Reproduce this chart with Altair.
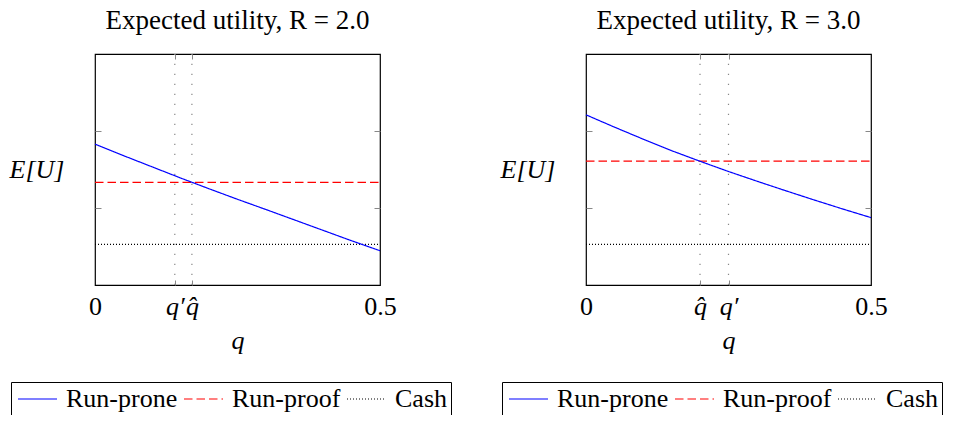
import altair as alt
import pandas as pd

# ---------------- data ----------------
Q = [0.0, 0.05, 0.10, 0.15, 0.20, 0.25, 0.30, 0.35, 0.40, 0.45, 0.50]
PRONE_R2 = [1.83, 1.68, 1.535, 1.39, 1.25, 1.113, 0.98, 0.845, 0.71, 0.575, 0.445]
PRONE_R3 = [2.21, 2.05, 1.895, 1.745, 1.607, 1.474, 1.348, 1.225, 1.105, 0.988, 0.875]
PROOF_R2 = 1.333
PROOF_R3 = 1.61
CASH = 0.528
QPRIME_R2, QHAT_R2 = 0.14, 0.17
QPRIME_R3, QHAT_R3 = 0.25, 0.20
SERIES = ["Run-prone", "Run-proof", "Cash"]
COLORS = ["#0000ff", "#ff0000", "#000000"]
DASHES = [[1, 0], [8.5, 4], [1, 2]]
Y_TICKS = [1, 2]
X_RANGE = [0.0, 0.5]
Y_RANGE = [0, 3]

W, H = 285, 231
FONT = "Liberation Serif"
FS = 26


def make_legend(legend_x):
    # a short, wide line symbol: layout box 20px, drawn line ~39px long
    return alt.Legend(
        orient="none", legendX=legend_x, legendY=328,
        direction="horizontal", title=None,
        symbolType="M-1,0H2.9", symbolSize=400, symbolStrokeWidth=1.2,
        labelFont=FONT, labelFontSize=26, labelColor="black",
        labelOffset=25, columnPadding=3, padding=4,
        strokeColor="black", fillColor="white", labelLimit=0)


def panel(R, prone, proof, qp, qh, legend_x):
    curve = pd.DataFrame({"q": Q, "v": prone, "s": "Run-prone"})
    flats = pd.DataFrame({
        "q": X_RANGE * 2,
        "v": [proof, proof, CASH, CASH],
        "s": ["Run-proof", "Run-proof", "Cash", "Cash"],
    })
    vlines = pd.DataFrame({"q": [qp, qh], "y0": [Y_RANGE[0]] * 2, "y1": [Y_RANGE[1]] * 2})

    xs = alt.Scale(domain=X_RANGE, nice=False, zero=False)
    ys = alt.Scale(domain=Y_RANGE, nice=False, zero=False)
    color = alt.Color("s:N", scale=alt.Scale(domain=SERIES, range=COLORS),
                      legend=make_legend(legend_x))
    dash = alt.StrokeDash("s:N", scale=alt.Scale(domain=SERIES, range=DASHES),
                          legend=make_legend(legend_x))

    ticks_vals = [X_RANGE[0], qp, qh, X_RANGE[1]]
    names = {X_RANGE[0]: "0", qp: "q\u2032", qh: "q\u0302", X_RANGE[1]: "0.5"}
    expr = " : ".join(f"datum.value == {k} ? '{v}'" for k, v in names.items()) + " : ''"

    # Layer A: run-prone curve with main axes (labels + titles)
    a = alt.Chart(curve).mark_line(strokeWidth=1.2).encode(
        x=alt.X("q:Q", scale=xs, axis=alt.Axis(
            orient="bottom", values=ticks_vals, labelExpr=expr, ticks=False, domain=False,
            grid=False, labelOverlap=False, labelFlush=False, labelFont=FONT, labelFontSize=FS,
            labelColor="black", labelPadding=8,
            labelFontStyle={"condition": {"test": f"datum.value > {X_RANGE[0]} && datum.value < {X_RANGE[1]}",
                                          "value": "italic"}, "value": "normal"},
            title="q", titleFont=FONT, titleFontSize=FS, titleFontStyle="italic",
            titleFontWeight="normal", titleColor="black", titlePadding=8)),
        y=alt.Y("v:Q", scale=ys, axis=alt.Axis(
            orient="left", labels=False, ticks=False, domain=False, grid=False,
            title="E[U]", titleFont=FONT, titleFontSize=FS, titleFontStyle="italic",
            titleFontWeight="normal", titleColor="black", titleAngle=0,
            titleAlign="right", titleBaseline="middle", titlePadding=31, minExtent=0)),
        color=color, strokeDash=dash,
    )

    # Layer B: vertical dotted rules; inward ticks at top and at left
    b = alt.Chart(vlines).mark_rule(color="#888888", strokeWidth=1.2, strokeDash=[1.2, 8.8]).encode(
        x=alt.X("q:Q", scale=xs, axis=alt.Axis(
            orient="bottom", offset=-H, values=[qp, qh], labels=False, domain=False,
            grid=False, ticks=True, tickSize=5, tickColor="#888888", title=None, minExtent=0)),
        y=alt.Y("y0:Q", scale=ys, axis=alt.Axis(
            orient="right", offset=-W, values=Y_TICKS, labels=False, domain=False,
            grid=False, ticks=True, tickSize=6, tickColor="#888888", title=None, minExtent=0)),
        y2="y1:Q",
    )

    # Layer C: flat lines; inward ticks at bottom and at right
    c = alt.Chart(flats).mark_line(strokeWidth=1.2).encode(
        x=alt.X("q:Q", scale=xs, axis=alt.Axis(
            orient="top", offset=-H, values=[qp, qh], labels=False, domain=False,
            grid=False, ticks=True, tickSize=5, tickColor="#888888", title=None, minExtent=0)),
        y=alt.Y("v:Q", scale=ys, axis=alt.Axis(
            orient="left", offset=-W, values=Y_TICKS, labels=False, domain=False,
            grid=False, ticks=True, tickSize=6, tickColor="#888888", title=None,
            minExtent=0)),
        color=color, strokeDash=dash,
    )

    return alt.layer(b, c, a).resolve_axis(x="independent", y="independent").properties(
        width=W, height=H,
        title=alt.TitleParams(text=f"Expected utility, R = {R:.1f}", font=FONT, fontSize=27,
                              fontWeight="normal", color="black", anchor="middle",
                              frame="group", baseline="top", offset=18),
    )


left = panel(2.0, PRONE_R2, PROOF_R2, QPRIME_R2, QHAT_R2, -84)
right = panel(3.0, PRONE_R3, PROOF_R3, QPRIME_R3, QHAT_R3, -84)

chart = alt.hconcat(left, right, spacing=206, bounds="flush").resolve_legend(
    color="independent", strokeDash="independent"
).properties(padding={"top": -2, "bottom": -3, "left": 0, "right": 0}).configure_view(
    stroke="black", strokeWidth=1.2)

chart.save("out.html", embed_options={"renderer": "svg", "actions": False})
